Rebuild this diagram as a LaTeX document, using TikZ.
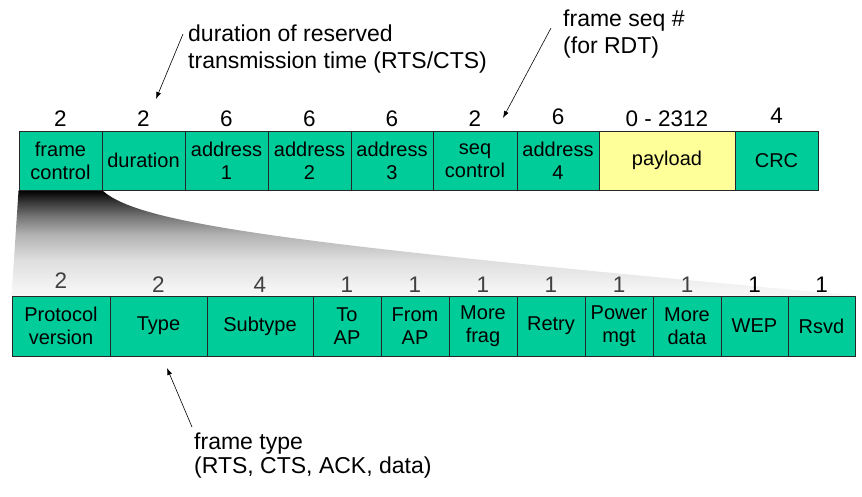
\documentclass[tikz,border=0pt]{standalone}
\usepackage{fontspec}
\setmainfont{Liberation Sans}
\usetikzlibrary{arrows.meta,positioning,backgrounds}
\definecolor{cFld}{HTML}{00CC99}
\definecolor{cPay}{HTML}{FFFF99}
\definecolor{cLine}{HTML}{262626}
\pgfdeclareverticalshading{fcfade}{100bp}{color(0bp)=(white); color(28bp)=(black!4);
  color(42bp)=(black!13); color(54bp)=(black!30); color(63bp)=(black!55);
  color(70bp)=(black!80); color(75bp)=(black); color(100bp)=(black)}
\tikzset{
  fld/.style  = {rectangle, draw=cLine, line width=0.9pt, fill=cFld, align=center,
                 font=\fontsize{20}{23}\selectfont, inner sep=0pt, minimum height=59pt},
  fldb/.style = {fld, minimum height=60pt},
  pay/.style  = {fld, fill=cPay},
  num/.style  = {font=\fontsize{22.5}{26}\selectfont, inner sep=0pt},
  numb/.style = {num, text=black!75},
  note/.style = {font=\fontsize{23}{27}\selectfont, align=left, inner sep=0pt},
  arr/.style  = {-{Latex[length=7pt,width=5pt]}, line width=0.6pt},
}

\begin{document}
\begin{tikzpicture}[x=1pt, y=-1pt]
  \useasboundingbox (0,0) rectangle (862,496);

  % ---- 802.11 frame ----
  \node[fld, minimum width=83pt] (fc) at (60.5,160.5) {frame\\control};
  \node[num, above=4pt of fc] (nfc) {2};
  \node[fld, minimum width=83pt] (dur) at (143.5,160.5) {duration};
  \node[num, above=4pt of dur] (ndur) {2};
  \node[fld, minimum width=83pt] (aone) at (226.5,160.5) {address\\1};
  \node[num, above=4pt of aone] (naone) {6};
  \node[fld, minimum width=83pt] (atwo) at (309.5,160.5) {address\\2};
  \node[num, above=4pt of atwo] (natwo) {6};
  \node[fld, minimum width=82pt] (athree) at (392,160.5) {address\\3};
  \node[num, above=4pt of athree] (nathree) {6};
  \node[fld, minimum width=84pt] (seq) at (475,160.5) {seq\\control};
  \node[num, above=4pt of seq] (nseq) {2};
  \node[fld, minimum width=82pt] (afour) at (558,160.5) {address\\4};
  \node[num, above=6pt of afour] (nafour) {6};
  \node[pay, minimum width=136pt] (pay) at (667,160.5) {payload};
  \node[num, above=4pt of pay] (npay) {0 - 2312};
  \node[fld, minimum width=83pt] (crc) at (776.5,160.5) {CRC};
  \node[num, above=7pt of crc] (ncrc) {4};

  % ---- frame control field ----
  \node[fldb, minimum width=98pt] (pv) at (61,326) {Protocol\\version};
  \node[numb, above=7pt of pv] (npv) {2};
  \node[fldb, minimum width=97pt] (ty) at (158.5,326) {Type};
  \node[numb, above=3pt of ty] (nty) {2};
  \node[fldb, minimum width=106pt] (st) at (260,326) {Subtype};
  \node[numb, above=3pt of st] (nst) {4};
  \node[fldb, minimum width=68pt] (toap) at (347,326) {To\\AP};
  \node[numb, above=3pt of toap] (ntoap) {1};
  \node[fldb, minimum width=68pt] (fromap) at (415,326) {From\\AP};
  \node[numb, above=3pt of fromap] (nfromap) {1};
  \node[fldb, minimum width=68pt] (mf) at (483,326) {More\\frag};
  \node[numb, above=3pt of mf] (nmf) {1};
  \node[fldb, minimum width=68pt] (retry) at (551,326) {Retry};
  \node[numb, above=3pt of retry] (nretry) {1};
  \node[fldb, minimum width=68pt] (pm) at (619,326) {Power\\mgt};
  \node[numb, above=3pt of pm] (npm) {1};
  \node[fldb, minimum width=68pt] (md) at (687,326) {More\\data};
  \node[numb, above=3pt of md] (nmd) {1};
  \node[fldb, minimum width=67pt] (wep) at (754.5,326) {WEP};
  \node[num, above=3pt of wep] (nwep) {1};
  \node[fldb, minimum width=67pt] (rsvd) at (821.5,326) {Rsvd};
  \node[num, above=3pt of rsvd] (nrsvd) {1};

  % ---- zoom wedge ----
  \begin{scope}[on background layer]
    \shade[shading=fcfade] (fc.south west) -- (pv.north west) -- (rsvd.north east)
      .. controls (300,245) and (140,225) .. (fc.south east) -- cycle;
  \end{scope}

  % ---- notes ----
  \node[note, anchor=north west] (durtxt) at (188,25)
    {duration of reserved\\transmission time (RTS/CTS)};
  \node[note, anchor=north west] (seqtxt) at (563,10) {frame seq \#\\(for RDT)};
  \node[note, anchor=north west, font=\fontsize{23}{24}\selectfont] (typetxt) at (194,433)
    {frame type\\(RTS, CTS, ACK, data)};
  \coordinate (durtip) at (156,99);
  \coordinate (seqtip) at (503,118);
  \coordinate (typetip) at (167,368);
  \draw[arr] ([xshift=-5pt,yshift=-9pt]durtxt.north west) -- (durtip);
  \draw[arr] ([xshift=-12pt,yshift=-18pt]seqtxt.north west) -- (seqtip);
  \draw[arr] ([xshift=-2pt,yshift=6pt]typetxt.north west) -- (typetip);
\end{tikzpicture}
\end{document}
